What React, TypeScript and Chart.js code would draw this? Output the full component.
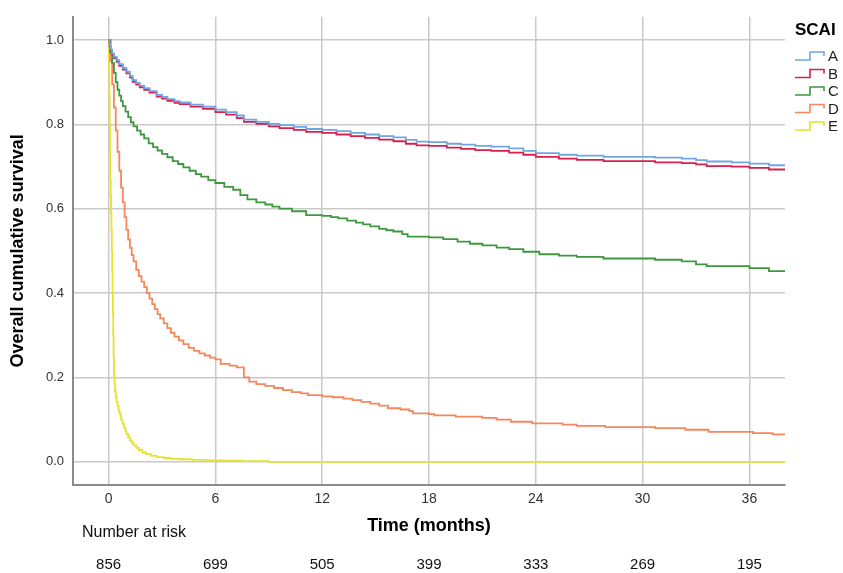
import { useEffect, useRef } from "react";
import { Chart, registerables } from "chart.js";

Chart.register(...registerables);

// Kaplan–Meier overall survival by SCAI shock stage (time in months)
const seriesNames = ["A", "B", "C", "D", "E"];

const timesAB = [
  0, 0.05, 0.1, 0.2, 0.3, 0.45, 0.6, 0.8, 1.0, 1.2, 1.35, 1.55, 1.75, 2.0, 2.3, 2.7, 3.0, 3.3, 3.7, 4.0,
  4.6, 5.3, 6.0, 6.6, 7.2, 7.6, 8.3, 9.0, 9.6, 10.4, 11.1, 12.0, 12.8, 13.6, 14.4, 15.2, 16.0, 16.7,
  17.3, 18.0, 19.0, 19.8, 20.6, 21.5, 22.5, 23.3, 24.0, 25.3, 26.3, 27.8, 30.7, 32.2, 33.0, 33.6, 35.0,
  36.0, 37.1, 38.0,
];
const survivalA = [
  1.0, 0.988, 0.978, 0.968, 0.96, 0.952, 0.943, 0.934, 0.925, 0.915, 0.905, 0.898, 0.892, 0.886, 0.879,
  0.87, 0.865, 0.86, 0.855, 0.852, 0.847, 0.842, 0.835, 0.829, 0.821, 0.811, 0.806, 0.801, 0.798, 0.794,
  0.789, 0.787, 0.784, 0.78, 0.776, 0.772, 0.769, 0.763, 0.759, 0.758, 0.754, 0.752, 0.749, 0.747,
  0.743, 0.737, 0.732, 0.728, 0.726, 0.723, 0.721, 0.719, 0.715, 0.712, 0.71, 0.707, 0.703, 0.703,
];
const survivalB = [
  1.0, 0.986, 0.975, 0.965, 0.957, 0.948, 0.939, 0.93, 0.921, 0.911, 0.901, 0.894, 0.888, 0.882, 0.875,
  0.866, 0.861, 0.856, 0.851, 0.848, 0.842, 0.837, 0.829, 0.823, 0.815, 0.806, 0.801, 0.795, 0.791,
  0.787, 0.782, 0.78, 0.776, 0.772, 0.768, 0.764, 0.76, 0.754, 0.75, 0.749, 0.745, 0.742, 0.739, 0.737,
  0.733, 0.728, 0.723, 0.719, 0.716, 0.713, 0.71, 0.708, 0.705, 0.701, 0.7, 0.697, 0.693, 0.693,
];

const timesC = [
  0, 0.1, 0.2, 0.3, 0.4, 0.5, 0.6, 0.7, 0.8, 0.95, 1.1, 1.25, 1.4, 1.6, 1.8, 2.0, 2.25, 2.5, 2.75, 3.0,
  3.3, 3.6, 3.9, 4.2, 4.55, 4.9, 5.2, 5.6, 6.0, 6.5, 7.0, 7.4, 7.8, 8.3, 8.8, 9.2, 9.6, 10.3, 11.1, 12.0,
  12.5, 12.9, 13.4, 13.9, 14.3, 14.7, 15.2, 15.6, 16.0, 16.5, 16.8, 18.0, 18.8, 19.6, 20.3, 21.0, 21.8,
  22.5, 23.3, 24.2, 25.3, 26.3, 27.8, 30.7, 32.2, 33.0, 33.6, 36.0, 37.1, 38.0,
];
const survivalC = [
  1.0, 0.97, 0.945, 0.922, 0.9, 0.882, 0.868, 0.855, 0.843, 0.83, 0.817, 0.805, 0.795, 0.785, 0.776,
  0.767, 0.755, 0.746, 0.738, 0.73, 0.722, 0.713, 0.706, 0.698, 0.69, 0.682, 0.676, 0.668, 0.661, 0.652,
  0.645, 0.632, 0.622, 0.615, 0.61, 0.605, 0.6, 0.594, 0.585, 0.583, 0.58, 0.577, 0.572, 0.567, 0.563,
  0.558, 0.552, 0.549, 0.546, 0.54, 0.534, 0.532, 0.528, 0.522, 0.517, 0.513, 0.508, 0.504, 0.498,
  0.492, 0.489, 0.486, 0.482, 0.479, 0.475, 0.468, 0.464, 0.459, 0.452, 0.452,
];

const timesD = [
  0, 0.1, 0.2, 0.3, 0.4, 0.5, 0.6, 0.7, 0.8, 0.9, 1.0, 1.1, 1.2, 1.3, 1.4, 1.55, 1.7, 1.85, 2.0, 2.15,
  2.3, 2.45, 2.6, 2.75, 2.9, 3.1, 3.3, 3.5, 3.7, 3.95, 4.2, 4.5, 4.8, 5.1, 5.4, 5.7, 6.0, 6.3, 6.8, 7.2,
  7.6, 7.9, 8.3, 8.8, 9.3, 9.8, 10.3, 10.8, 11.2, 12.0, 12.6, 13.2, 13.7, 14.2, 14.7, 15.2, 15.7, 16.4,
  16.9, 17.1, 18.0, 18.3, 19.5, 21.0, 21.8, 22.6, 23.8, 25.5, 26.3, 27.9, 30.7, 32.4, 33.7, 36.2, 37.3,
  38.0,
];
const survivalD = [
  1.0, 0.95, 0.895, 0.84, 0.785, 0.735, 0.69, 0.65, 0.615, 0.58, 0.55, 0.527, 0.507, 0.49, 0.475, 0.455,
  0.44, 0.427, 0.414, 0.4, 0.387, 0.374, 0.362, 0.35, 0.34, 0.328, 0.317, 0.306, 0.297, 0.288, 0.279,
  0.27, 0.263, 0.257, 0.252, 0.247, 0.243, 0.232, 0.228, 0.224, 0.2, 0.19, 0.184, 0.18, 0.175, 0.17,
  0.165, 0.162, 0.158, 0.155, 0.153, 0.15, 0.146, 0.142, 0.138, 0.133, 0.127, 0.124, 0.12, 0.115, 0.113,
  0.11, 0.107, 0.104, 0.1, 0.095, 0.091, 0.088, 0.085, 0.082, 0.08, 0.076, 0.071, 0.068, 0.065, 0.065,
];

const timesE = [
  0, 0.02, 0.04, 0.06, 0.08, 0.1, 0.12, 0.14, 0.16, 0.18, 0.2, 0.22, 0.24, 0.26, 0.28, 0.3, 0.33, 0.36,
  0.4, 0.45, 0.5, 0.56, 0.62, 0.7, 0.78, 0.86, 0.94, 1.0, 1.1, 1.2, 1.3, 1.4, 1.55, 1.7, 1.9, 2.1, 2.4,
  2.7, 3.1, 3.5, 4.0, 4.7, 5.5, 6.5, 7.5, 9.0, 38.0,
];
const survivalE = [
  1.0, 0.93, 0.87, 0.8, 0.73, 0.67, 0.63, 0.59, 0.55, 0.5, 0.45, 0.4, 0.35, 0.3, 0.25, 0.21, 0.185, 0.168,
  0.153, 0.142, 0.132, 0.121, 0.113, 0.1, 0.09, 0.081, 0.072, 0.066, 0.058, 0.051, 0.045, 0.039, 0.033,
  0.028, 0.022, 0.018, 0.014, 0.011, 0.009, 0.007, 0.006, 0.0045, 0.0035, 0.0025, 0.0015, 0, 0,
];

const seriesColors = ["#72a6e2", "#d8204f", "#3f983f", "#f4875c", "#e4e42a"];

const xTickValues = [0, 6, 12, 18, 24, 30, 36];
const yTickValues = [0, 0.2, 0.4, 0.6, 0.8, 1.0];

const riskTitle = "Number at risk";
const riskTimes = [0, 6, 12, 18, 24, 30, 36];
const riskCounts = [856, 699, 505, 399, 333, 269, 195];

const FONT = "'Liberation Sans', Arial, Helvetica, sans-serif";

const toPoints = (xs: number[], ys: number[]) => xs.map((x, i) => ({ x, y: ys[i] }));

const legendPlugin = {
  id: "scaiLegend",
  afterDraw(chart: any) {
    const { ctx } = chart;
    ctx.save();
    ctx.textAlign = "left";
    ctx.textBaseline = "alphabetic";
    ctx.fillStyle = "#000";
    ctx.font = `bold 17px ${FONT}`;
    ctx.fillText("SCAI", 795, 35);
    chart.data.datasets.forEach((ds: any, i: number) => {
      const cy = 57 + i * 17.5;
      ctx.strokeStyle = ds.borderColor;
      ctx.lineWidth = 1.6;
      ctx.beginPath();
      ctx.moveTo(795, cy + 3);
      ctx.lineTo(810, cy + 3);
      ctx.lineTo(810, cy - 5);
      ctx.lineTo(824, cy - 5);
      ctx.lineTo(824, cy - 1);
      ctx.stroke();
      ctx.fillStyle = "#222";
      ctx.font = `15px ${FONT}`;
      ctx.textBaseline = "middle";
      ctx.fillText(ds.label, 828, cy);
      ctx.textBaseline = "alphabetic";
    });
    ctx.restore();
  },
};

const riskTablePlugin = {
  id: "riskTable",
  afterDraw(chart: any) {
    const { ctx } = chart;
    const xs = chart.scales.x;
    ctx.save();
    ctx.fillStyle = "#111";
    ctx.textBaseline = "middle";
    ctx.textAlign = "left";
    ctx.font = `16px ${FONT}`;
    ctx.fillText(riskTitle, 82, 533);
    ctx.textAlign = "center";
    ctx.font = `15px ${FONT}`;
    riskTimes.forEach((t, i) => {
      ctx.fillText(String(riskCounts[i]), xs.getPixelForValue(t), 565);
    });
    ctx.restore();
  },
};

export default function App() {
  const canvasRef = useRef<HTMLCanvasElement | null>(null);

  useEffect(() => {
    const canvas = canvasRef.current;
    if (!canvas) return;
    const allTimes = [timesAB, timesAB, timesC, timesD, timesE];
    const allSurvival = [survivalA, survivalB, survivalC, survivalD, survivalE];
    const chart = new Chart(canvas, {
      type: "line",
      data: {
        datasets: seriesNames.map((name, i) => ({
          label: name,
          data: toPoints(allTimes[i], allSurvival[i]),
          borderColor: seriesColors[i],
          backgroundColor: seriesColors[i],
          borderWidth: 1.8,
          pointRadius: 0,
          stepped: "before" as const,
          fill: false,
        })),
      },
      options: {
        animation: false,
        responsive: false,
        devicePixelRatio: 1,
        layout: { padding: { left: 0, top: 13, right: 58, bottom: 0 } },
        plugins: {
          legend: { display: false },
          tooltip: { enabled: false },
        },
        scales: {
          x: {
            type: "linear",
            min: -2,
            max: 38,
            afterBuildTicks: (scale: any) => {
              scale.ticks = xTickValues.map((v) => ({ value: v }));
            },
            afterFit: (scale: any) => {
              scale.height = 88;
            },
            grid: { color: "#c9c9c9", lineWidth: 1.5, drawTicks: false },
            border: { color: "#8a8a8a", width: 2 },
            ticks: {
              padding: 6,
              color: "#333",
              font: { family: FONT, size: 14 },
              callback: (v: any) => String(v),
            },
            title: {
              display: true,
              text: "Time (months)",
              color: "#000",
              font: { family: FONT, size: 18, weight: "bold" },
              padding: { top: 0, bottom: 36 },
            },
          },
          y: {
            type: "linear",
            min: -0.055,
            max: 1.055,
            afterBuildTicks: (scale: any) => {
              scale.ticks = yTickValues.map((v) => ({ value: v }));
            },
            afterFit: (scale: any) => {
              scale.width = 73;
            },
            grid: { color: "#c9c9c9", lineWidth: 1.5, drawTicks: false },
            border: { color: "#8a8a8a", width: 2 },
            ticks: {
              padding: 9,
              color: "#333",
              font: { family: FONT, size: 13 },
              callback: (v: any) => Number(v).toFixed(1),
            },
            title: {
              display: true,
              text: "Overall cumulative survival",
              color: "#000",
              font: { family: FONT, size: 18, weight: "bold" },
              padding: { top: 7, bottom: 0 },
            },
          },
        },
      },
      plugins: [legendPlugin, riskTablePlugin],
    });
    return () => chart.destroy();
  }, []);

  return (
    <div style={{ position: "fixed", left: 0, top: 0, width: 843, height: 573, background: "#fff" }}>
      <canvas ref={canvasRef} width={843} height={573} style={{ width: 843, height: 573 }} />
    </div>
  );
}
